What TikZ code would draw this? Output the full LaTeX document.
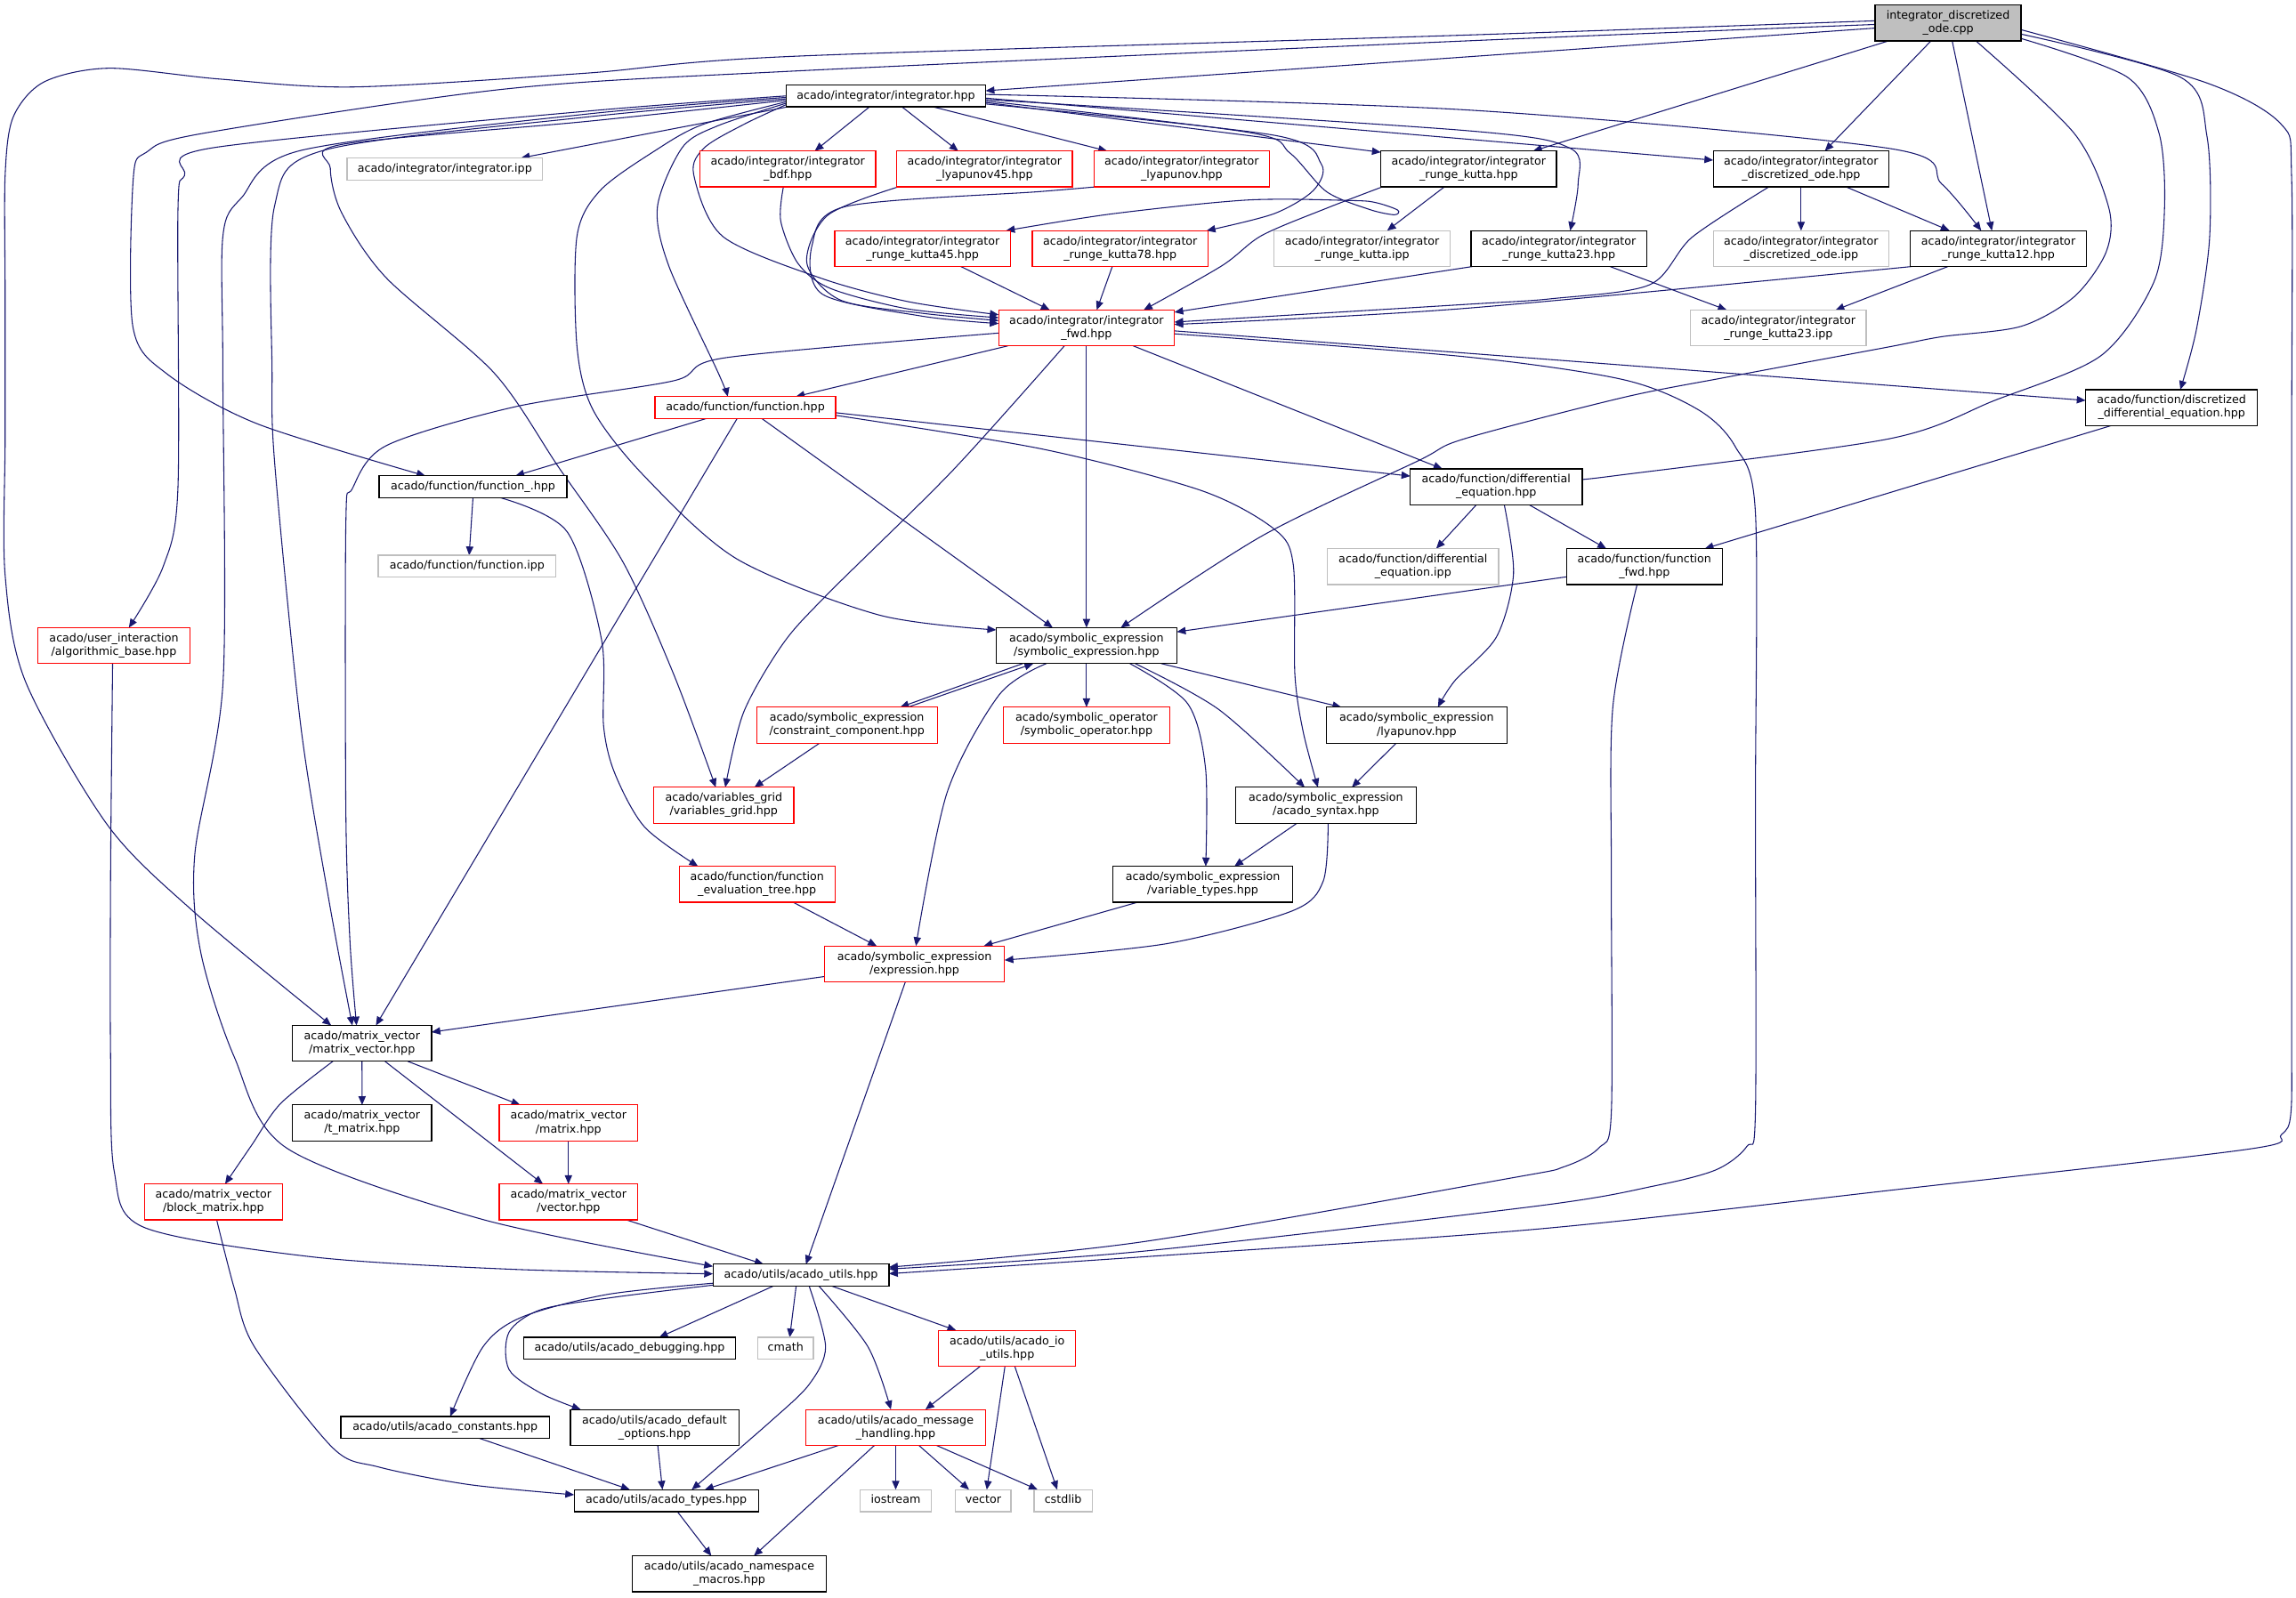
\documentclass[tikz,border=0pt]{standalone}
\usepackage{fontspec}
\setmainfont{DejaVu Sans}
\usetikzlibrary{arrows.meta}
\definecolor{edgec}{HTML}{191970}
\definecolor{greyb}{HTML}{BFBFBF}
\pgfdeclarelayer{bg}
\pgfsetlayers{bg,main}
\begin{document}
\begin{tikzpicture}[x=1pt,y=-1pt,
  box/.style={rectangle,line width=0.75pt,inner xsep=4pt,inner ysep=0pt,outer sep=0pt,fill=white,font=\fontsize{7.7}{9.2}\selectfont},
  one/.style={box,minimum height=15pt,text height=6pt,text depth=1.9pt},
  two/.style={box,minimum height=24.5pt,align=center},
  kbox/.style={draw=black},
  rbox/.style={draw=red},
  gbox/.style={draw=greyb},
  rootbox/.style={draw=black,fill=greyb},
  e/.style={draw=edgec,line width=0.65pt,-{Triangle[length=6pt,width=5pt]}}
]
\useasboundingbox (0,0) rectangle (1568,1091);
\begin{pgfonlayer}{bg}
\fill[white] (0,0) rectangle (1568,1091);
\end{pgfonlayer}

% ---------------- nodes ----------------
\node[two,rootbox,minimum width=99.7pt] (cpp) at (1330.4,15.7) {integrator\_discretized\\\_ode.cpp};
\node[one,kbox,minimum width=136.2pt] (ihpp) at (605,65.5) {acado/integrator/integrator.hpp};
\node[one,gbox,minimum width=133.5pt] (iipp) at (303.8,115.4) {acado/integrator/integrator.ipp};
\node[two,rbox,minimum width=120pt] (bdf) at (538,115.4) {acado/integrator/integrator\\\_bdf.hpp};
\node[two,rbox,minimum width=120pt] (lyapA) at (672.4,115.4) {acado/integrator/integrator\\\_lyapunov45.hpp};
\node[two,rbox,minimum width=120pt] (lyapB) at (807,115.4) {acado/integrator/integrator\\\_lyapunov.hpp};
\node[two,kbox,minimum width=120pt] (rk) at (1003,115.4) {acado/integrator/integrator\\\_runge\_kutta.hpp};
\node[two,kbox,minimum width=120pt] (dode) at (1230,115.4) {acado/integrator/integrator\\\_discretized\_ode.hpp};
\node[two,rbox,minimum width=120pt] (rkA) at (630,169.8) {acado/integrator/integrator\\\_runge\_kutta45.hpp};
\node[two,rbox,minimum width=120pt] (rkB) at (765,169.8) {acado/integrator/integrator\\\_runge\_kutta78.hpp};
\node[two,gbox,minimum width=120pt] (rkipp) at (930.2,169.8) {acado/integrator/integrator\\\_runge\_kutta.ipp};
\node[two,kbox,minimum width=120pt] (rkC) at (1064.6,169.8) {acado/integrator/integrator\\\_runge\_kutta23.hpp};
\node[two,gbox,minimum width=120pt] (dodeipp) at (1230,169.8) {acado/integrator/integrator\\\_discretized\_ode.ipp};
\node[two,kbox,minimum width=120pt] (rkD) at (1364.7,169.8) {acado/integrator/integrator\\\_runge\_kutta12.hpp};
\node[two,rbox,minimum width=120pt] (fwd) at (742,224) {acado/integrator/integrator\\\_fwd.hpp};
\node[two,gbox,minimum width=120pt] (rkCipp) at (1214.5,224) {acado/integrator/integrator\\\_runge\_kutta23.ipp};
\node[one,rbox,minimum width=123.4pt] (func) at (509,278.4) {acado/function/function.hpp};
\node[two,kbox,minimum width=117.4pt] (ddeq) at (1483,278.4) {acado/function/discretized\\\_differential\_equation.hpp};
\node[one,kbox,minimum width=128.3pt] (funcU) at (323,332.5) {acado/function/function\_.hpp};
\node[two,kbox,minimum width=117.4pt] (deq) at (1021.8,332.5) {acado/function/differential\\\_equation.hpp};
\node[one,gbox,minimum width=121.5pt] (funcipp) at (319,386.8) {acado/function/function.ipp};
\node[two,gbox,minimum width=117pt] (deqipp) at (965,387) {acado/function/differential\\\_equation.ipp};
\node[two,kbox,minimum width=106.4pt] (ffwd) at (1123,387) {acado/function/function\\\_fwd.hpp};
\node[two,rbox,minimum width=103.9pt] (algo) at (77.8,441) {acado/user\_interaction\\/algorithmic\_base.hpp};
\node[two,kbox,minimum width=123.4pt] (symb) at (742,441) {acado/symbolic\_expression\\/symbolic\_expression.hpp};
\node[two,rbox,minimum width=123.3pt] (constr) at (578.4,495.3) {acado/symbolic\_expression\\/constraint\_component.hpp};
\node[two,rbox,minimum width=113.4pt] (symop) at (742,495.3) {acado/symbolic\_operator\\/symbolic\_operator.hpp};
\node[two,kbox,minimum width=123pt] (lyapsym) at (967.5,495.3) {acado/symbolic\_expression\\/lyapunov.hpp};
\node[two,rbox,minimum width=95.5pt] (vg) at (494.3,550) {acado/variables\_grid\\/variables\_grid.hpp};
\node[two,kbox,minimum width=123pt] (syntax) at (905.5,550) {acado/symbolic\_expression\\/acado\_syntax.hpp};
\node[two,rbox,minimum width=106.3pt] (evtree) at (517,604) {acado/function/function\\\_evaluation\_tree.hpp};
\node[two,kbox,minimum width=123pt] (vtypes) at (821.4,604) {acado/symbolic\_expression\\/variable\_types.hpp};
\node[two,rbox,minimum width=123pt] (expr) at (624.5,658.4) {acado/symbolic\_expression\\/expression.hpp};
\node[two,kbox,minimum width=95pt] (mv) at (247.2,712.7) {acado/matrix\_vector\\/matrix\_vector.hpp};
\node[two,kbox,minimum width=95pt] (tmat) at (247.3,767) {acado/matrix\_vector\\/t\_matrix.hpp};
\node[two,rbox,minimum width=94.5pt] (mat) at (388.2,767) {acado/matrix\_vector\\/matrix.hpp};
\node[two,rbox,minimum width=94.5pt] (bmat) at (145.8,821) {acado/matrix\_vector\\/block\_matrix.hpp};
\node[two,rbox,minimum width=94.5pt] (vec) at (388.2,821) {acado/matrix\_vector\\/vector.hpp};
\node[one,kbox,minimum width=120.2pt] (utils) at (547,871) {acado/utils/acado\_utils.hpp};
\node[one,kbox,minimum width=144.3pt] (dbg) at (430,921) {acado/utils/acado\_debugging.hpp};
\node[one,gbox,minimum width=37.9pt] (cmath) at (536.5,921) {cmath};
\node[two,rbox,minimum width=93.5pt] (io) at (687.8,921) {acado/utils/acado\_io\\\_utils.hpp};
\node[one,kbox,minimum width=142.6pt] (consts) at (304,975) {acado/utils/acado\_constants.hpp};
\node[two,kbox,minimum width=115pt] (defopt) at (447,975) {acado/utils/acado\_default\\\_options.hpp};
\node[two,rbox,minimum width=122.5pt] (msg) at (611.7,975) {acado/utils/acado\_message\\\_handling.hpp};
\node[one,kbox,minimum width=125.8pt] (types) at (455,1025) {acado/utils/acado\_types.hpp};
\node[one,gbox,minimum width=48.5pt] (iostr) at (611.7,1025) {iostream};
\node[one,gbox,minimum width=37.9pt] (vectr) at (671.5,1025) {vector};
\node[one,gbox,minimum width=39.7pt] (cstd) at (726,1025) {cstdlib};
\node[two,kbox,minimum width=132.4pt] (ns) at (498,1075) {acado/utils/acado\_namespace\\\_macros.hpp};

% ---------------- edges ----------------
\begin{pgfonlayer}{bg}
% from the cpp file
\draw[e] ([yshift=-3.5]cpp.west) -- ([yshift=3.5]ihpp.east);
\draw[e] plot[smooth] coordinates {([yshift=-1]cpp.west) (1000,28) (541,48.6) (345,60.8) (138,91.2) (100,104) (91,122) (90.7,222.9) (113.9,255.3) (176,289.6) ([xshift=-32.5]funcU.north)};
\draw[e] plot[smooth] coordinates {([yshift=1.5]cpp.west) (1000,24) (541,38.5) (400,50) (241.5,59.4) (150,54) (74.2,46.6) (30,56) (9,80) (3.5,120) (3.5,200) (3.5,300) (3.5,392.7) (17.6,466) (73.4,563.5) (132,622.5) ([xshift=-21]mv.north)};
\draw[e] ([xshift=-40.7]cpp.south) -- ([xshift=44]rk.north);
\draw[e] ([xshift=-11.7]cpp.south) -- ([xshift=16.2]dode.north);
\draw[e] ([xshift=2.8]cpp.south) -- ([xshift=-4.4]rkD.north);
\draw[e] plot[smooth] coordinates {([xshift=19]cpp.south) (1416.6,91.2) (1440.1,141.8) (1438.3,172.2) (1416.6,202.6) (1380.3,222.9) (1326,230) (1289.7,237) (1181,257.3) (1108.5,271.5) (999.8,299.8) (968,315) (862.5,365.7) ([xshift=23.4]symb.north)};
\draw[e] plot[smooth] coordinates {([yshift=-10.6]cpp.east) (1452.8,52.7) (1474.5,91.2) (1478.2,141.8) (1471,192.5) (1434.7,243) (1362.2,273.5) (1289.7,299.8) (1102.5,325) ([yshift=5.5]deq.east)};
\draw[e] plot[smooth] coordinates {([yshift=-7.6]cpp.east) (1489,52.7) (1507.2,93.2) (1509,162) (1500,225) ([xshift=6]ddeq.north)};
\draw[e] plot[smooth] coordinates {([yshift=-4.6]cpp.east) (1507.2,56.7) (1558,85) (1565,121.6) (1565,300) (1565,500) (1565,700) (1564.5,760) (1558,775) (1535,785) (1300,812) (1050.2,839.5) (779,858.6) ([yshift=1]utils.east)};

% from integrator.hpp
\draw[e] ([xshift=1]ihpp.south west) -- ([xshift=52]iipp.north);
\draw[e] ([xshift=-11.2]ihpp.south) -- ([xshift=18.4]bdf.north);
\draw[e] ([xshift=11]ihpp.south) -- ([xshift=-18]lyapA.north);
\draw[e] ([xshift=32.3]ihpp.south) -- ([xshift=-50.9]lyapB.north);
\draw[e] ([yshift=-4.5]ihpp.east) -- ([yshift=11.4]rk.west);
\draw[e] ([yshift=-1.5]ihpp.east) -- ([yshift=6]dode.west);
\draw[e] plot[smooth] coordinates {([yshift=1]ihpp.east) (1000,75) (1289.7,101.3) (1326,125.6) ([xshift=-11.7]rkD.north)};
\draw[e] plot[smooth] coordinates {([yshift=-2.5]ihpp.east) (1000,89.1) (1072.3,101.3) (1077.7,125.6) ([xshift=7.7]rkC.north)};
\draw[e] plot[smooth] coordinates {([yshift=-3.5]ihpp.east) (852.4,90.4) (880.9,104.5) (905.9,130.9) (935,143) (952.2,146.7) (954.5,143.5) (940,138.5) (923.7,137) (852.4,136.6) (760,146) ([xshift=-3]rkA.north east)};
\draw[e] plot[smooth] coordinates {([yshift=-5.5]ihpp.east) (870.2,92.4) (902.3,112) (897,130) (870,146) ([xshift=-1]rkB.north east)};
\draw[e] plot[smooth] coordinates {([yshift=-6]ihpp.west) (508.9,84.5) (481.3,100.7) (473.7,119) (493.6,161.5) (560.3,189.9) (620,206) ([yshift=9]fwd.west)};
\draw[e] plot[smooth] coordinates {([yshift=-5]ihpp.west) (490,86) (466,100.7) (449,141.2) (456.8,181.8) (490.5,254.7) ([xshift=-12]func.north)};
\draw[e] plot[smooth] coordinates {([yshift=-4]ihpp.west) (480,85) (447.7,102.7) (410,130) (394,161.5) (394,236.4) (405,280) (440,325.2) (503.4,381.9) (600,420) ([yshift=-1.5]symb.north west)};
\draw[e] plot[smooth] coordinates {([yshift=-3]ihpp.west) (400,83) (233.3,98.7) (225.6,114.9) (233.3,145.3) (263.9,189.9) (337.4,254.7) (381.4,319) (425.4,383.8) (460,460.4) ([xshift=-5.5]vg.north)};
\draw[e] plot[smooth] coordinates {([yshift=-2]ihpp.west) (400,80) (221,102.7) (187.4,141.2) (185.8,254.7) (187.8,319) (205.4,495.8) (224.4,613.6) ([xshift=-6.6]mv.north)};
\draw[e] plot[smooth] coordinates {([yshift=-1]ihpp.west) (400,78) (205.7,102.7) (165,135) (152.2,161.5) (152.2,254.7) (152.3,466.3) (133,584) (137,650) (160,722) (196.1,784.4) (329.8,833) ([yshift=-1.5]utils.north west)};
\draw[e] plot[smooth] coordinates {(ihpp.west) (400,76) (145,101) (126,120) (121.5,145) (121.5,333.8) (111.5,386.8) ([xshift=10.2]algo.north)};

% into integrator_fwd
\draw[e] plot[smooth] coordinates {([xshift=-3]bdf.south) (533.2,151.1) (545,180) (567.1,197) (620,211) ([yshift=7]fwd.west)};
\draw[e] plot[smooth] coordinates {([xshift=1]lyapA.south west) (565.3,147) (551,179.5) (574,205) (630,214) ([yshift=5]fwd.west)};
\draw[e] plot[smooth] coordinates {([xshift=1]lyapB.south west) (709.7,130.9) (577.8,141) (554.6,167.4) (561.7,201) (630,216) ([yshift=3]fwd.west)};
\draw[e] ([xshift=26.2]rkA.south) -- ([xshift=-25.1]fwd.north);
\draw[e] ([xshift=-5.4]rkB.south) -- ([xshift=7]fwd.north);
\draw[e] plot[smooth] coordinates {([xshift=1]rk.south west) (905,142.6) (861.6,160.9) (834.5,181.5) ([xshift=39]fwd.north)};
\draw[e] ([xshift=1]rkC.south west) -- ([yshift=-1.5]fwd.north east);
\draw[e] plot[smooth] coordinates {([xshift=-22]dode.south) (1155.6,162) (1126.6,194.5) (1060,204) (999.8,208) ([yshift=4]fwd.east)};
\draw[e] plot[smooth] coordinates {([xshift=1]rkD.south west) (999.8,210.7) ([yshift=2.4]fwd.east)};
\draw[e] ([xshift=-16.6]rk.south) -- ([xshift=17.1]rkipp.north);
\draw[e] (dode.south) -- (dodeipp.north);
\draw[e] ([xshift=30.7]dode.south) -- ([xshift=-33.3]rkD.north);
\draw[e] ([xshift=34.9]rkC.south) -- ([xshift=-35.3]rkCipp.north);
\draw[e] ([xshift=-34.4]rkD.south) -- ([xshift=39]rkCipp.north);

% from integrator_fwd
\draw[e] ([xshift=-53.7]fwd.south) -- ([xshift=34.5]func.north);
\draw[e] plot[smooth] coordinates {([yshift=-3.5]fwd.west) (495.8,244.3) (460,260.1) (352,277.8) (264,304.3) (240.6,333.8) (236.2,357.3) (236.2,554.7) (239,643) ([xshift=-3.7]mv.north)};
\draw[e] plot[smooth] coordinates {([xshift=-15.1]fwd.south) (650,322) (565,406) (534.5,440) (507.8,486.6) ([xshift=1]vg.north)};
\draw[e] (fwd.south) -- (symb.north);
\draw[e] ([xshift=31.9]fwd.south) -- ([xshift=-36.8]deq.north);
\draw[e] ([yshift=-2]fwd.east) -- ([yshift=4.9]ddeq.west);
\draw[e] plot[smooth] coordinates {([yshift=-4]fwd.east) (999.8,243.6) (1108.5,259.3) (1160,280) (1185,305) (1198.8,350) (1198.8,550) (1198.8,760) (1193,783) (1172,799) (1130,810) (1050.2,823.7) (779,854.8) ([yshift=4.2]utils.east)};

% from function.hpp
\draw[e] plot[smooth] coordinates {([yshift=-5.3]func.east) (711.7,306.7) (820.2,335) (870.2,361.4) (883.2,385.7) (884.3,460.7) (890,500) ([xshift=-5.5]syntax.north)};
\draw[e] ([yshift=-3.5]func.east) -- ([yshift=7.3]deq.west);
\draw[e] ([xshift=11.3]func.south) -- ([xshift=-23.1]symb.north);
\draw[e] ([xshift=-26.7]func.south) -- ([xshift=29]funcU.north);
\draw[e] ([xshift=-5.6]func.south) -- ([xshift=9.5]mv.north);

% function_.hpp
\draw[e] (funcU.south) -- ([xshift=1.4]funcipp.north);
\draw[e] plot[smooth] coordinates {([xshift=18.8]funcU.south) (387.3,363.2) (410.8,436.9) (412.2,495.8) (420,528.6) (440.3,565) ([xshift=-40.3]evtree.north)};

% differential equation / function_fwd
\draw[e] ([xshift=-13.5]deq.south) -- ([xshift=15.8]deqipp.north);
\draw[e] ([xshift=22.4]deq.south) -- ([xshift=-26]ffwd.north);
\draw[e] plot[smooth] coordinates {([xshift=5.5]deq.south) (1033.6,392) (1022,435) (993.5,465) ([xshift=14.5]lyapsym.north)};
\draw[e] ([xshift=-41]ddeq.south) -- ([xshift=41.2]ffwd.north);
\draw[e] ([yshift=-7]ffwd.west) -- ([yshift=9.4]symb.east);
\draw[e] plot[smooth] coordinates {([xshift=-5]ffwd.south) (1101.4,483.4) (1100.4,600) (1100.4,760) (1092,784) (1068,797) (1030,805) (779,848.4) ([yshift=5.5]utils.east)};

% algorithmic_base
\draw[e] plot[smooth] coordinates {([xshift=-0.9]algo.south) (75.5,600) (75.5,720) (78,800) (98,838.2) (214,858.6) (350,867) ([yshift=0.9]utils.west)};

% symbolic expression
\draw[e] ([xshift=-43.5]symb.south) -- ([xshift=36.3]constr.north);
\draw[e] ([xshift=41.6]constr.north) -- ([xshift=-36.3]symb.south);
\draw[e] (symb.south) -- (symop.north);
\draw[e] ([xshift=51]symb.south) -- ([xshift=-51.5]lyapsym.north);
\draw[e] plot[smooth] coordinates {([xshift=33.2]symb.south) (832.3,484.6) ([xshift=-14.5]syntax.north)};
\draw[e] plot[smooth] coordinates {([xshift=29.6]symb.south) (811,480.5) (823.3,525) ([xshift=2]vtypes.north)};
\draw[e] plot[smooth] coordinates {([xshift=-27.4]symb.south) (682.5,474.4) (646.8,541.3) ([xshift=1]expr.north)};
\draw[e] ([xshift=-18.6]constr.south) -- ([xshift=20.9]vg.north);
\draw[e] ([xshift=-14]lyapsym.south) -- ([xshift=17.7]syntax.north);
\draw[e] ([xshift=-19.7]syntax.south) -- ([xshift=21.6]vtypes.north);
\draw[e] plot[smooth] coordinates {([xshift=1.5]syntax.south) (903.6,602) (882.2,622.3) (796.6,644.6) ([yshift=2.6]expr.east)};
\draw[e] ([xshift=-44.4]vtypes.south) -- ([xshift=47.3]expr.north);
\draw[e] ([xshift=24.6]evtree.south) -- ([xshift=-25.8]expr.north);
\draw[e] ([yshift=-8.6]expr.west) -- ([yshift=7.7]mv.east);
\draw[e] ([xshift=-6.2]expr.south) -- ([xshift=3.4]utils.north);

% matrix_vector
\draw[e] (mv.south) -- (tmat.north);
\draw[e] ([xshift=31.3]mv.south) -- ([xshift=-33]mat.north);
\draw[e] ([xshift=15.7]mv.south) -- ([xshift=-17.4]vec.north);
\draw[e] plot[smooth] coordinates {([xshift=-19.9]mv.south) (191.6,753.8) (172,782) ([xshift=7.9]bmat.north)};
\draw[e] (mat.south) -- (vec.north);
\draw[e] ([xshift=39.6]vec.south) -- ([xshift=-25.6]utils.north);
\draw[e] plot[smooth] coordinates {([xshift=2.2]bmat.south) (160,880) (173.8,920) (227.3,989) (258.5,1002) (320,1014) ([yshift=4]types.west)};

% utils
\draw[e] ([xshift=-19]utils.south) -- ([xshift=20.1]dbg.north);
\draw[e] ([xshift=-3.3]utils.south) -- ([xshift=2.8]cmath.north);
\draw[e] ([xshift=21.2]utils.south) -- ([xshift=-34.8]io.north);
\draw[e] plot[smooth] coordinates {([yshift=-5.5]utils.west) (414.5,884.2) (356.5,899.6) (329.8,920) ([xshift=3.5]consts.north)};
\draw[e] plot[smooth] coordinates {([yshift=-6.8]utils.west) (420,886) (369.9,894.4) (347.6,910) (347.6,935.4) (370,952) ([xshift=-50.4]defopt.north)};
\draw[e] plot[smooth] coordinates {([xshift=12.3]utils.south) (592.8,920) ([xshift=-3.3]msg.north)};
\draw[e] plot[smooth] coordinates {([xshift=5.6]utils.south) (563.8,920) (552.6,945.6) (525.9,971.2) ([xshift=17.4]types.north)};
\draw[e] ([xshift=-18.4]io.south) -- ([xshift=20.3]msg.north);
\draw[e] ([xshift=-1.5]io.south) -- ([xshift=2.4]vectr.north);
\draw[e] ([xshift=5.2]io.south) -- ([xshift=-4]cstd.north);
\draw[e] ([xshift=-39]msg.south) -- ([xshift=26.3]types.north);
\draw[e] (msg.south) -- (iostr.north);
\draw[e] ([xshift=15.8]msg.south) -- ([xshift=-9.7]vectr.north);
\draw[e] ([xshift=27.8]msg.south) -- ([xshift=-17.4]cstd.north);
\draw[e] ([xshift=-14.5]msg.south) -- ([xshift=16.8]ns.north);
\draw[e] ([xshift=7.6]types.south) -- ([xshift=-12.2]ns.north);
\draw[e] ([xshift=23.6]consts.south) -- ([xshift=-24.9]types.north);
\draw[e] ([xshift=2.2]defopt.south) -- ([xshift=-2.6]types.north);
\end{pgfonlayer}
\end{tikzpicture}
\end{document}
